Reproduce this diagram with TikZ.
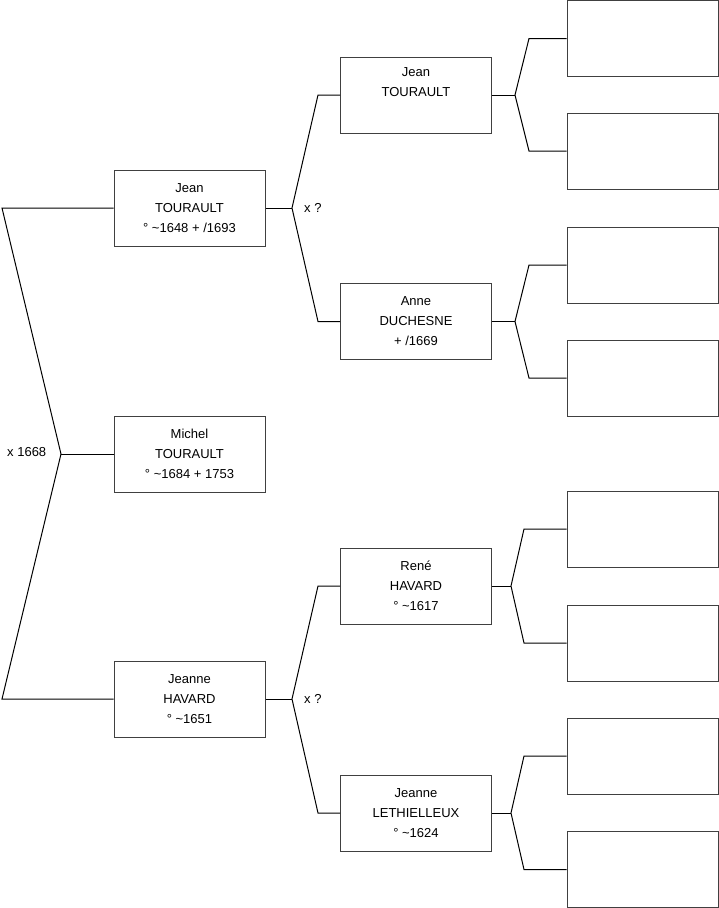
\documentclass[tikz,border=0pt]{standalone}
\usepackage{fontspec}
\setmainfont{Liberation Sans}
\begin{document}
\begin{tikzpicture}[x=1pt,y=-1pt,
  person/.style={draw=black!75, line width=1pt, minimum width=151pt, minimum height=76pt, inner sep=0pt, align=center, font=\fontsize{13}{20}\selectfont, fill=white},
  link/.style={draw=black, line width=1pt},
  lbl/.style={font=\fontsize{13}{14}\selectfont, inner sep=0pt}]
\useasboundingbox (0,0) rectangle (719,908);
% generation 1
\node[person] (jean) at (189.5,208) {Jean\\TOURAULT\\° \textasciitilde1648 + /1693};
\node[person] (michel) at (189.5,454) {Michel\\TOURAULT\\° \textasciitilde1684 + 1753};
\node[person] (jeanne) at (189.5,699) {Jeanne\\HAVARD\\° \textasciitilde1651};
% generation 2
\node[person] (jean2) at (416,95) {Jean\\TOURAULT\\\strut};
\node[person] (anne) at (416,321.5) {Anne\\DUCHESNE\\+ /1669};
\node[person] (rene) at (416,586) {René\\HAVARD\\° \textasciitilde1617};
\node[person] (jeannel) at (416,813) {Jeanne\\LETHIELLEUX\\° \textasciitilde1624};
% generation 3
\node[person] (g1) at (642.5,38.5) {};
\node[person] (g2) at (642.5,151) {};
\node[person] (g3) at (642.5,265) {};
\node[person] (g4) at (642.5,378) {};
\node[person] (g5) at (642.5,529) {};
\node[person] (g6) at (642.5,643) {};
\node[person] (g7) at (642.5,756) {};
\node[person] (g8) at (642.5,869.5) {};
% coordinates
\coordinate (lt) at (2,208);
\coordinate (lv) at (61,454);
\coordinate (lb) at (2,699);
\coordinate (av) at (292,208);
\coordinate (a1) at (318,95);
\coordinate (a2) at (318,321.5);
\coordinate (bv) at (292,699);
\coordinate (b1) at (318,586);
\coordinate (b2) at (318,813);
\coordinate (cv) at (515,95);
\coordinate (c1) at (529,38.5);
\coordinate (c2) at (529,151);
\coordinate (dv) at (515,321.5);
\coordinate (d1) at (529,265);
\coordinate (d2) at (529,378);
\coordinate (ev) at (511,586);
\coordinate (e1) at (524,529);
\coordinate (e2) at (524,643);
\coordinate (fv) at (511,813);
\coordinate (f1) at (524,756);
\coordinate (f2) at (524,869.5);
% connectors
\draw[link] (jean.west) -- (lt) -- (lv) -- (lb) -- (jeanne.west);
\draw[link] (lv) -- (michel.west);
\draw[link] (jean.east) -- (av);
\draw[link] (jean2.west) -- (a1) -- (av) -- (a2) -- (anne.west);
\draw[link] (jeanne.east) -- (bv);
\draw[link] (rene.west) -- (b1) -- (bv) -- (b2) -- (jeannel.west);
\draw[link] (jean2.east) -- (cv);
\draw[link] (g1.west) -- (c1) -- (cv) -- (c2) -- (g2.west);
\draw[link] (anne.east) -- (dv);
\draw[link] (g3.west) -- (d1) -- (dv) -- (d2) -- (g4.west);
\draw[link] (rene.east) -- (ev);
\draw[link] (g5.west) -- (e1) -- (ev) -- (e2) -- (g6.west);
\draw[link] (jeannel.east) -- (fv);
\draw[link] (g7.west) -- (f1) -- (fv) -- (f2) -- (g8.west);
% labels
\node[lbl, anchor=west] (m1) at (7,452) {x 1668};
\node[lbl, anchor=west] (m2) at (304,208) {x ?};
\node[lbl, anchor=west] (m3) at (304,699) {x ?};
\end{tikzpicture}
\end{document}
